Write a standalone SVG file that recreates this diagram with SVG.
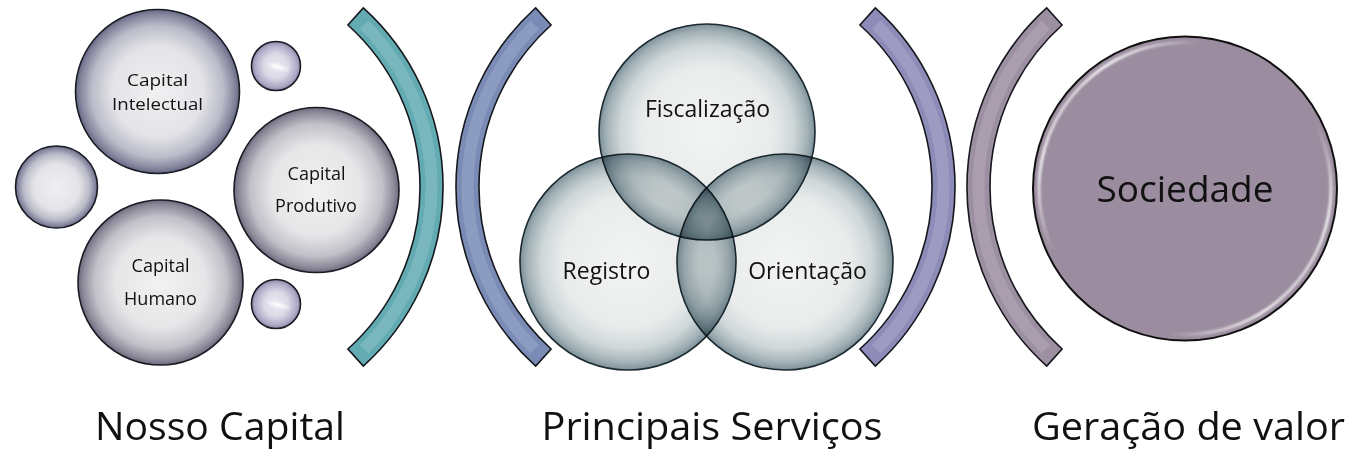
<svg xmlns="http://www.w3.org/2000/svg" width="1348" height="455" viewBox="0 0 1348 455">
<defs>
<style>
.lbl{font-family:"Open Sans","Noto Sans","Liberation Sans",sans-serif;fill:#111;text-anchor:middle}
.sm{font-size:18px}
.xs{font-size:17px}
.vn{font-size:23px}
.big{font-size:38px}
.out{stroke:#1a1c24;stroke-width:1.6}
.br{stroke:#15171c;stroke-width:1.6}
.sheen{fill:none;stroke:#fff;stroke-opacity:0.14;stroke-width:12}
.venn{mix-blend-mode:multiply;stroke:#1c2a30;stroke-width:1.6}
</style>
<radialGradient id="gBig" cx="0.5" cy="0.5" r="0.5">
<stop offset="0" stop-color="#f1f1f2"/>
<stop offset="0.55" stop-color="#e6e6e8"/>
<stop offset="0.8" stop-color="#c2c0c8"/>
<stop offset="0.94" stop-color="#8e8a9a"/>
<stop offset="1" stop-color="#6e6a7e"/>
</radialGradient>
<radialGradient id="gBigB" cx="0.5" cy="0.5" r="0.5">
<stop offset="0" stop-color="#f0f0f2"/>
<stop offset="0.55" stop-color="#e4e4e8"/>
<stop offset="0.8" stop-color="#bcbcca"/>
<stop offset="0.94" stop-color="#86869e"/>
<stop offset="1" stop-color="#666884"/>
</radialGradient>
<radialGradient id="gSmall" cx="0.5" cy="0.5" r="0.5">
<stop offset="0" stop-color="#eceaf2"/>
<stop offset="0.5" stop-color="#dcd8e6"/>
<stop offset="0.85" stop-color="#b0aac6"/>
<stop offset="1" stop-color="#8e88aa"/>
</radialGradient>
<radialGradient id="gHl" cx="0.5" cy="0.5" r="0.5">
<stop offset="0" stop-color="#fff" stop-opacity="0.95"/>
<stop offset="1" stop-color="#fff" stop-opacity="0"/>
</radialGradient>
<radialGradient id="gVenn" cx="0.5" cy="0.5" r="0.5">
<stop offset="0" stop-color="#f2f3f3"/>
<stop offset="0.6" stop-color="#eaecec"/>
<stop offset="0.8" stop-color="#cfd7d9"/>
<stop offset="0.93" stop-color="#a3b2b7"/>
<stop offset="1" stop-color="#7c909a"/>
</radialGradient>
<linearGradient id="gSoc" x1="0" y1="0.15" x2="1" y2="0.85">
<stop offset="0" stop-color="#fff" stop-opacity="0"/>
<stop offset="0.12" stop-color="#fff" stop-opacity="0.85"/>
<stop offset="0.3" stop-color="#fff" stop-opacity="0"/>
<stop offset="0.7" stop-color="#fff" stop-opacity="0"/>
<stop offset="0.88" stop-color="#fff" stop-opacity="0.85"/>
<stop offset="1" stop-color="#fff" stop-opacity="0"/>
</linearGradient>
<filter id="blur1" x="-10%" y="-10%" width="120%" height="120%"><feGaussianBlur stdDeviation="1.2"/></filter>
</defs>
<rect width="1348" height="455" fill="#fff"/>

<g id="capital-intelectual">
<circle class="out" cx="157.5" cy="91.5" r="82" fill="url(#gBigB)"/>
<text class="lbl xs" x="157.5" y="86" textLength="61" lengthAdjust="spacingAndGlyphs">Capital</text>
<text class="lbl xs" x="157.5" y="110" textLength="91" lengthAdjust="spacingAndGlyphs">Intelectual</text>
</g>
<g id="capital-produtivo">
<circle class="out" cx="316.5" cy="190" r="82.5" fill="url(#gBig)"/>
<text class="lbl sm" x="316.5" y="180">Capital</text>
<text class="lbl sm" x="316" y="212">Produtivo</text>
</g>
<g id="capital-humano">
<circle class="out" cx="160.5" cy="282.5" r="82.5" fill="url(#gBig)"/>
<text class="lbl sm" x="160.5" y="272">Capital</text>
<text class="lbl sm" x="160.5" y="305">Humano</text>
</g>
<g id="bubble-left">
<circle class="out" cx="56.5" cy="187" r="41" fill="url(#gBigB)"/>
</g>
<g id="bubble-top">
<circle class="out" cx="276" cy="66" r="24.5" fill="url(#gSmall)"/>
<ellipse cx="278" cy="67" rx="14" ry="4" fill="url(#gHl)" transform="rotate(15 278 67)"/>
</g>
<g id="bubble-bottom">
<circle class="out" cx="276" cy="304" r="24.5" fill="url(#gSmall)"/>
<ellipse cx="278" cy="305" rx="14" ry="4" fill="url(#gHl)" transform="rotate(15 278 305)"/>
</g>

<g id="connectors">
<g id="bracket-1">
<path class="br" fill="#63abb3" d="M347.9,25 L363.3,7.9 A241,241 0 0 1 363.3,366.1 L347.9,349 A218,218 0 0 0 347.9,25 Z"/>
<path class="sheen" d="M364.3,24.7 A229.5,229.5 0 0 1 364.3,349.3"/>
</g>
<g id="bracket-2">
<path class="br" fill="#7a8bb6" d="M551.1,25 L535.7,7.9 A241,241 0 0 0 535.7,366.1 L551.1,349 A218,218 0 0 1 551.1,25 Z"/>
<path class="sheen" d="M534.7,24.7 A229.5,229.5 0 0 0 534.7,349.3"/>
</g>
<g id="bracket-3">
<path class="br" fill="#8d8bb7" d="M859.9,25 L875.3,7.9 A241,241 0 0 1 875.3,366.1 L859.9,349 A218,218 0 0 0 859.9,25 Z"/>
<path class="sheen" d="M876.3,24.7 A229.5,229.5 0 0 1 876.3,349.3"/>
</g>
<g id="bracket-4">
<path class="br" fill="#9c8fa1" d="M1062.1,25 L1046.7,7.9 A241,241 0 0 0 1046.7,366.1 L1062.1,349 A218,218 0 0 1 1062.1,25 Z"/>
<path class="sheen" d="M1045.7,24.7 A229.5,229.5 0 0 0 1045.7,349.3"/>
</g>
</g>

<g id="venn">
<g id="fiscalizacao">
<circle class="venn" cx="707" cy="132" r="108" fill="url(#gVenn)"/>
</g>
<g id="registro">
<circle class="venn" cx="628" cy="262" r="108" fill="url(#gVenn)"/>
</g>
<g id="orientacao">
<circle class="venn" cx="785" cy="262" r="108" fill="url(#gVenn)"/>
</g>
<text class="lbl vn" x="707.5" y="117">Fiscalização</text>
<text class="lbl vn" x="606.5" y="279">Registro</text>
<text class="lbl vn" x="807.5" y="279">Orientação</text>
</g>

<g id="sociedade">
<circle cx="1185" cy="188.5" r="152" fill="#9b8d9f" stroke="#111" stroke-width="2"/>
<circle cx="1185" cy="188.5" r="146" fill="none" stroke="url(#gSoc)" stroke-width="3" filter="url(#blur1)"/>
<text class="lbl" style="font-size:37px" x="1185" y="202">Sociedade</text>
</g>

<g id="labels">
<text class="lbl big" x="220" y="440" textLength="250" lengthAdjust="spacingAndGlyphs">Nosso Capital</text>
<text class="lbl big" x="712" y="440" textLength="341" lengthAdjust="spacingAndGlyphs">Principais Serviços</text>
<text class="lbl big" x="1188.5" y="440" textLength="313" lengthAdjust="spacingAndGlyphs">Geração de valor</text>
</g>
</svg>
